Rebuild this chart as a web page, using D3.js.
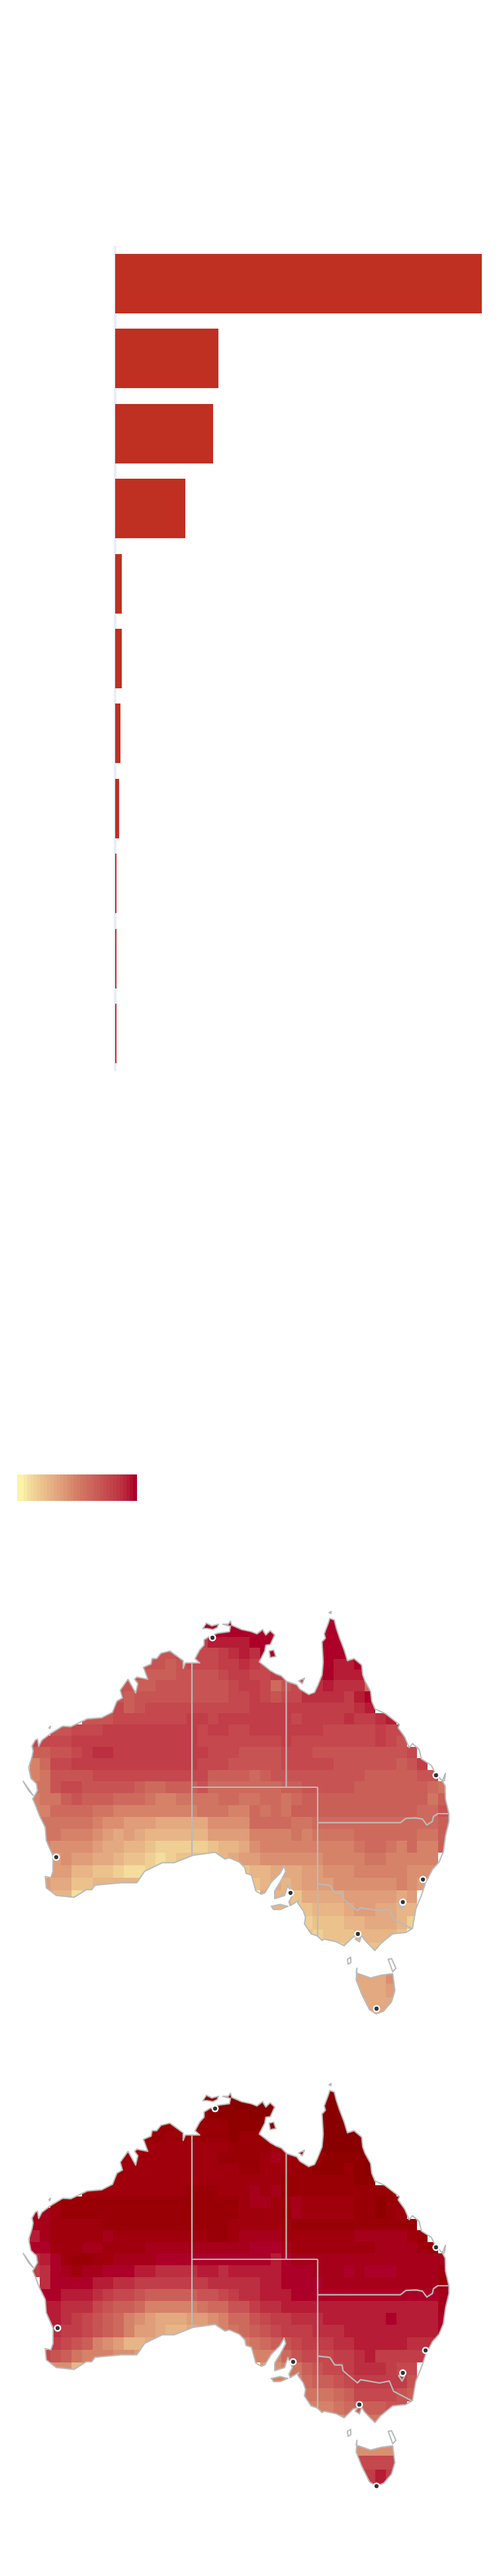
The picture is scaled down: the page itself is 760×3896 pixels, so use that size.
<!DOCTYPE html>
<html><head><meta charset="utf-8">
<script src="https://cdnjs.cloudflare.com/ajax/libs/d3/7.8.5/d3.min.js"></script>
<style>html,body{margin:0;padding:0;background:#fff}svg{display:block}</style>
</head><body><div id="chart"></div>
<script>
// Bars (share of the largest bar, %)
const barRanks = [1,2,3,4,5,6,7,8,9,10,11];
const barValues = [100,28.2,26.7,19.1,1.8,1.8,1.4,1.05,0.35,0.35,0.35];

// Colour levels
const levelColours = ["#fbf3a8","#f4dd9e","#efcf94","#ebc28c","#e7b586","#e3a980","#df9d79","#da8f71","#d58269","#d07562","#cd6a5d","#ca5f58","#c75453","#c4484d","#c13d48","#bc2f40","#b61c35","#ad0028","#a6001a","#9f000c","#990005","#900000","#880000"];

// Gridded values: latitudes (deg S), one char per degree of longitude from 113E, base-36 colour level
const gridLatitudes = [11,12,13,14,15,16,17,18,19,20,21,22,23,24,25,26,27,28,29,30,31,32,33,34,35,36,37,38,39,40,41,42,43,44];
const gridFirst = [
"..........".concat(".......hhh","hhhhh...hh","hh.........."),
"..........".concat("......fhhh","hhhhhh..hh","hh.........."),
"..........".concat("......eegg","gghhh...hh","hh.........."),
"..........".concat("..cccdddde","fgfhh...hh","hhhh........"),
"..........".concat(".cccbcddde","efeddd..hh","gghh........"),
".........c".concat("ccbbbccccd","eeddeeeegh","gggg........"),
".........c".concat("cbbccccccc","deedacdffg","fffa........"),
"........cc".concat("bccccccccc","ddedcddfff","fegh........"),
".......ddd".concat("bcdddddddd","ddeeeeeeee","eefg........"),
"......cccd".concat("ddddddeede","eeeeeedeee","efeefg......"),
"...ccdddee".concat("eeeeeeedee","ddeeeeeeed","ddddedd....."),
".ddddeeeee".concat("eeeeeeeddd","dddddedddd","ddddedc....."),
".bbccdeffe".concat("eeeeeeeedd","dccccdddcc","cccccccd...."),
".8addeeeee".concat("eeeeeeeddd","cccccddddd","ccccccbce..."),
".89ccccddd".concat("ddddddddbb","bbabcccccc","cccbbbbbcc.."),
".99cddcccc".concat("cbaabbbcaa","aaaaabbccc","ccbbbbbbba9."),
".899bcbbba".concat("aa9889999a","a99aa9abbb","bbbbbbbbb9b."),
".88aaaa998".concat("8888888999","88a9a9bbbb","bbbbbbbbaac."),
".899999877".concat("6665555577","77aaaa99aa","aaaaaaaaaab."),
"..99888765".concat("6544444466","6688889899","99aaaaaa99b."),
"..87777655".concat("4432222234","4578888888","889aa98a88b."),
"...6766554".concat("3321233334","5667777778","8889988888.."),
"...6644332".concat("1122......",".344555667","7788888777.."),
"..65533444".concat("44........","..34545666","777777876..."),
"...4413...".concat("..........","...5443555","56666656...."),
"..........".concat("..........","....443344","45665544...."),
"..........".concat("..........","......2233","34455542...."),
"..........".concat("..........",".......323","3344443....."),
"..........".concat("..........","..........","23333......."),
"..........".concat("..........","..........",".55555......"),
"..........".concat("..........","..........",".55557......"),
"..........".concat("..........","..........",".55556......"),
"..........".concat("..........","..........",".44555......"),
"..........".concat("..........","..........","..444.......")
];
const gridSecond = [
"..........".concat(".......kkl","lllll...mm","mm.........."),
"..........".concat("......kllm","mmmmmm..mm","mm.........."),
"..........".concat("......kkll","llmmm...mm","mm.........."),
"..........".concat("..kkkkkkkk","lllll...mm","mmmm........"),
"..........".concat(".kkkjkkkkk","lkkkkk..mm","mmmm........"),
".........j".concat("jjjjjjjjjj","kkkkjkkkmm","mmmm........"),
".........j".concat("jjjjjjjjjk","kkkjijkkkl","lllm........"),
"........jj".concat("jjjjjjjjjj","jkkjjjkkll","lklm........"),
".......jjj".concat("jjjjjjjjjj","jjjjjkkkkk","kkll........"),
"......jjjj".concat("jjjjjjkkkj","jjijikkkkk","kkkkkk......"),
"...jkkkkkk".concat("kkkkkkkkkk","kjiijjijjj","jjkklkk....."),
".iijkkkkkk".concat("kkkkkkkkkk","kjjjjkijjj","jjkklkj....."),
".iijjjjjkk".concat("kkkkkkkkkk","jjjjjjkkkk","kkkkkkkk...."),
".gijjjjjij".concat("jjjjjjjjkk","jiiiijjjjj","jjiiiiijk..."),
".hhjjjiijj".concat("jjiiiiiiii","iihhhijjjj","jjjjiiiijk.."),
".fghjkkjji".concat("iiihhhhhhh","hhhhghiiii","iiiiiiiiiii."),
".efhijiihh".concat("hggffffggf","ggggghhhii","ihihhhiiiij."),
"..fhhhhggf".concat("feeeeeeeff","fffgghhhhi","iiiiiiiiiij."),
"..hhgggfed".concat("dcbbbbbccd","effggghhhh","hhhhhhhhhhi."),
"..ggfffdcb".concat("ba888889aa","cceffggggg","ggggggggggi."),
"..ggfedcba".concat("8765556678","aacdeefffg","ggggghggggh."),
"...feedcba".concat("8665445678","9abcdeeeff","fgggggggggh."),
"...edcb876".concat("4456......",".89abcdeee","ffgggggfff.."),
"..dcb98887".concat("76........","..888acddd","eefgeeeee..."),
"...7746...".concat("..........","...6789bcd","defffedd...."),
"..........".concat("..........","....888abb","cdeeeeec...."),
"..........".concat("..........","......8999","abddddcb...."),
"..........".concat("..........",".......888","9abbbcc....."),
"..........".concat("..........","..........","78999......."),
"..........".concat("..........","..........",".77777......"),
"..........".concat("..........","..........",".77777......"),
"..........".concat("..........","..........",".ddddd......"),
"..........".concat("..........","..........",".eeege......"),
"..........".concat("..........","..........","..ggg.......")
];
const gridStartLon = 113;

// Outlines as [lon E, lat S]
const mainland = [[129,14.9],[129.74,14.9],[129.3,14.5],[129.74,13.7],[130.16,13.25],[130.16,12.75],[130.68,12.45],[131.42,12.15],[132.58,12],[132.68,11.5],[131.95,11.3],[132.47,11.3],[132.68,11],[132.8,11.4],[133.74,11.8],[134.68,12],[135.2,12.2],[135.74,11.8],[136.05,12.3],[136.47,11.9],[136.9,12.3],[136.47,13.2],[136.05,13.25],[135.95,13.8],[135.42,14.8],[135.95,15.2],[136.47,15.6],[137,15.9],[137.53,16.1],[138.05,16.6],[139,16.9],[139.3,17.3],[140.15,17.8],[140.7,17.6],[141,17],[141.42,16],[141.53,14.8],[141.42,12.95],[141.74,12.6],[141.63,12.2],[142.05,11.1],[142.16,10.75],[142.58,10.9],[142.79,11.7],[143.1,12.6],[143.53,13.7],[143.84,14.7],[144.47,14.5],[145.2,15.1],[145.3,16],[145.53,16.6],[146.05,17.5],[146.16,18.4],[146.47,19.1],[147.42,19.5],[148.8,20.5],[148.68,20.8],[149.3,21.6],[149.74,22.55],[150.05,22.2],[150.68,22.7],[150.9,23.55],[151.84,24.1],[152.26,24.85],[152.9,25.45],[153.17,25.9],[153.2,27],[153.53,28.25],[153.53,28.9],[153.2,30.1],[153,31.4],[152.58,32.25],[151.95,32.85],[151.3,33.9],[150.9,34.9],[150.37,35.95],[150.05,37.45],[149.42,37.75],[148.16,37.85],[147,38.6],[146.47,39.1],[145.95,38.7],[145.42,38.25],[145.2,37.95],[145,38.45],[144.58,38.25],[144.9,37.95],[144.37,38.1],[143.53,38.75],[142.79,38.45],[141.63,38.25],[141.42,38.35],[140.95,38],[140.37,37.85],[139.74,37.1],[139.84,36.6],[139.63,36.1],[139.1,35.5],[139.2,35.3],[138.37,35.7],[138.26,35.4],[138.58,34.9],[138.16,34.1],[137.84,34.9],[136.9,35.15],[136.9,34.55],[137.42,33.85],[137.95,33],[137.8,32.55],[137.42,33.15],[136.58,33.85],[135.95,34.7],[135.63,34.8],[135.1,34.55],[134.68,33.3],[134.16,33.15],[134.05,32.7],[133.53,32.25],[132.58,31.9],[132.16,32],[131.2,31.45],[129.1,31.7],[127.3,32.3],[126.16,32.3],[124.47,33],[123.74,33.9],[122.26,33.9],[119.74,34.1],[119.42,34.45],[118.9,34.45],[117.74,35.05],[116.05,34.9],[115.1,34.3],[115,33.4],[115.53,33.5],[115.74,33],[115.74,31.75],[115.1,30.5],[115,29.4],[114.47,28.45],[114.05,27.5],[113.8,27],[114.26,26.3],[114.16,25.7],[113.63,25.25],[113.42,24.3],[113.74,23.35],[113.84,22.85],[113.74,22.4],[114.05,21.9],[114.26,21.8],[114.37,22.45],[114.68,21.9],[115.53,21.3],[116.68,20.65],[117.42,20.7],[119,20],[120.37,19.9],[121.42,19.4],[121.84,18.4],[122.37,18.1],[122.16,17.4],[122.9,16.4],[123.63,17.65],[123.84,16.8],[123.53,16.4],[123.74,16.2],[124.79,16.4],[124.37,15.3],[125.1,15],[125.2,14.5],[125.63,14.5],[126.05,14],[126.9,13.8],[128.16,14.7],[128.16,15.4],[128.37,14.9]];
const tasmania = [[144.75,40.4],[144.68,40.75],[146.05,41.1],[147.1,40.9],[148.16,40.8],[148.37,42],[148.05,42.8],[147.3,43.45],[146.58,43.65],[145.95,43.35],[145.2,42.25],[144.68,41.25]];
const tiwi = [[130.05,11.7],[130.37,11.2],[130.9,11.45],[131.53,11.3],[131.42,11.6],[131,11.8],[130.47,11.7]];
const groote = [[136.37,13.8],[136.8,13.7],[137,14.3],[136.47,14.4]];
const mornington = [[139.2,16.55],[139.74,16.3],[139.53,16.8]];
const kangaroo = [[136.58,35.75],[137.42,35.6],[138.16,35.75],[137.42,36],[136.8,36]];
const filledLand = [mainland, tasmania, tiwi, groote, mornington, kangaroo];
const outlineIslands = [
  [[143.84,39.75],[144.16,39.6],[144.16,40],[143.9,40.1]],
  [[147.74,39.75],[148.05,39.7],[148.47,40.4],[148.16,40.65]],
  [[112.9,25.5],[113.84,26.7],[113.42,26.3]],
  [[115.35,20.8],[115.5,20.65],[115.45,20.85]],
  [[142.1,10.2],[142.3,10.1],[142.25,10.3]],
  [[152.9,25.45],[153.2,24.8],[153.1,25.45]]
];
const stateBorders = [
  [[129,14.9],[129,31.7]],
  [[129,26],[141,26]],
  [[138,16.6],[138,26]],
  [[141,26],[141,38]],
  [[141,29],[148.9,29],[149.42,28.65],[150.37,28.6],[151,28.7],[151.42,29.2],[151.95,28.9],[152.05,28.5],[152.47,28.25],[153.53,28.25]],
  [[141,34],[142.16,34.1],[142.64,34.7],[143.32,34.7],[143.42,35.15],[144.8,36.1],[145.1,35.85],[146.9,36.1],[147.84,35.95],[148.26,36.75],[149.95,37.45]],
  [[148.7,35.5],[149.05,35.95],[149.3,35.6],[148.7,35.5]]
];
const citiesFirst = [[130.96,12.56],[152.3,24.97],[151.05,33.64],[149.13,35.42],[144.84,37.86],[138.41,34.7],[116.05,31.85],[146.62,43.28]];
const citiesSecond = [[131.21,12.44],[152.3,24.97],[151.3,33.55],[149.13,35.32],[144.98,37.75],[138.66,34.45],[116.18,31.75],[146.62,43.65]];

const W = 760, H = 3896;
const svg = d3.select("#chart").append("svg").attr("width", W).attr("height", H).attr("viewBox", [0,0,W,H]);
svg.append("rect").attr("width", W).attr("height", H).attr("fill", "#fff");

// Bar chart
const x = d3.scaleLinear().domain([0,100]).range([174,728]);
const y = d3.scaleBand().domain(barRanks).range([384,1608]).paddingInner(0.206);
svg.append("line").attr("x1",174).attr("x2",174).attr("y1",372).attr("y2",1620).attr("stroke","#e9edf6").attr("stroke-width",4);
svg.append("g").attr("shape-rendering","crispEdges").selectAll("rect").data(barRanks).join("rect")
  .attr("x", x(0)).attr("y", d => y(d)).attr("height", y.bandwidth())
  .attr("width", (d,i) => x(barValues[i]) - x(0)).attr("fill", "#bf3022");

// Colour
const colour = d3.scaleLinear().domain(d3.range(levelColours.length)).range(levelColours).clamp(true);

// Legend: yellow holds at the start, then steps through the levels
const legendX = d3.scaleLinear().domain([-1,17]).range([26,206]);
const legendLevels = d3.range(-1,17,0.5);
svg.append("g").attr("shape-rendering","crispEdges").selectAll("rect").data(legendLevels).join("rect")
  .attr("x", d => legendX(d)).attr("y", 2230).attr("height", 40)
  .attr("width", d => legendX(d+0.5) - legendX(d) + 0.5)
  .attr("fill", d => colour(Math.max(0, d + 0.5)));

// Maps
function drawMap(id, grid, cities, offsetY) {
  const projection = d3.geoMercator().center([129,0]).scale(907).translate([290, offsetY]);
  const at = p => projection([p[0], -p[1]]);
  const line = d3.line();
  const ring = r => line(r.map(at)) + "Z";
  const g = svg.append("g");
  g.append("clipPath").attr("id", id).append("path").attr("d", filledLand.map(ring).join(""));
  const cells = grid.flatMap((row, r) => Array.from(row).map((c, i) => ({
    lon: gridStartLon + i, lat: gridLatitudes[r], level: c === "." ? null : parseInt(c, 36)
  }))).filter(d => d.level !== null);
  g.append("g").attr("clip-path", `url(#${id})`).attr("shape-rendering","crispEdges").selectAll("rect").data(cells).join("rect")
    .attr("x", d => Math.round(at([d.lon - 0.5, d.lat])[0]))
    .attr("y", d => Math.round(at([d.lon, d.lat - 0.5])[1]))
    .attr("width", d => Math.round(at([d.lon + 0.5, d.lat])[0]) - Math.round(at([d.lon - 0.5, d.lat])[0]))
    .attr("height", d => Math.round(at([d.lon, d.lat + 0.5])[1]) - Math.round(at([d.lon, d.lat - 0.5])[1]))
    .attr("fill", d => colour(d.level));
  const lineStyle = s => s.attr("fill","none").attr("stroke","#bababa").attr("stroke-linejoin","round");
  g.append("path").attr("d", filledLand.concat(outlineIslands).map(ring).join("")).call(lineStyle).attr("stroke-width",2);
  g.append("g").selectAll("path").data(stateBorders).join("path")
    .attr("d", d => line(d.map(at))).call(lineStyle).attr("stroke-width",2.2);
  g.append("g").selectAll("circle").data(cities).join("circle")
    .attr("cx", d => at(d)[0]).attr("cy", d => at(d)[1]).attr("r", 4.3)
    .attr("fill","#333").attr("stroke","#fff").attr("stroke-width",2.4);
}
drawMap("land-first", gridFirst, citiesFirst, 2276.5);
drawMap("land-second", gridSecond, citiesSecond, 2990.5);
</script></body></html>
